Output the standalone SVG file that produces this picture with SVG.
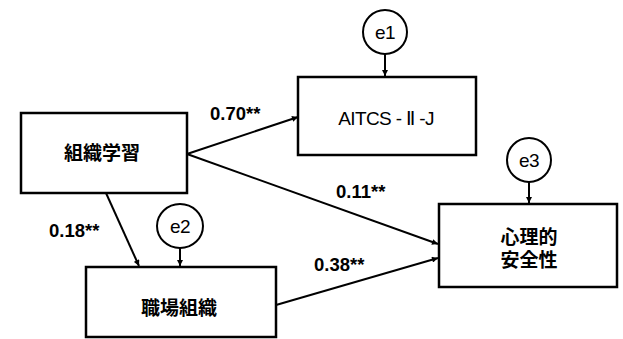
<svg xmlns="http://www.w3.org/2000/svg" width="623" height="339" viewBox="0 0 623 339">
<defs>
<marker id="ah" viewBox="0 0 10 10" refX="10" refY="5" markerWidth="7" markerHeight="6" markerUnits="userSpaceOnUse" orient="auto">
<path d="M0,0 L10,5 L0,10 z" fill="#000"/>
</marker>
</defs>
<style>
.box{fill:#fff;stroke:#000;stroke-width:2.5}
.err{fill:#fff;stroke:#000;stroke-width:2}
.cn{fill:#000;font-family:"Liberation Sans","Noto Sans CJK JP",sans-serif;font-weight:bold;font-size:19px;text-anchor:middle;dominant-baseline:central}
.lat{fill:#000;font-family:"Liberation Sans",Arial,sans-serif;font-size:19px;text-anchor:middle;dominant-baseline:central;letter-spacing:-0.6px}
.lbl{fill:#000;font-family:"Liberation Sans",Arial,sans-serif;font-weight:bold;font-size:18.5px}
.edge{stroke:#000;stroke-width:2;fill:none;marker-end:url(#ah)}
</style>
<rect width="623" height="339" fill="#fff"/>
<g id="connectors">
<line class="edge" x1="187" y1="154" x2="298" y2="117"/>
<line class="edge" x1="187" y1="154" x2="438" y2="244"/>
<line class="edge" x1="106" y1="193" x2="139" y2="266"/>
<line class="edge" x1="276" y1="305" x2="438" y2="258"/>
<line class="edge" x1="385" y1="54" x2="385" y2="76"/>
<line class="edge" x1="180" y1="248" x2="180" y2="266"/>
<line class="edge" x1="529" y1="182" x2="529" y2="203"/>
<text class="lbl" x="210" y="120">0.70**</text>
<text class="lbl" x="336" y="198">0.11**</text>
<text class="lbl" x="49" y="237">0.18**</text>
<text class="lbl" x="314" y="271">0.38**</text>
</g>
<g id="n1">
<rect class="box" x="21" y="113" width="166" height="80"/>
<text class="cn" x="102" y="153">組織学習</text>
</g>
<g id="n2">
<rect class="box" x="298" y="77" width="178" height="78"/>
<text class="lat" x="386" y="118">AITCS - Ⅱ -J</text>
</g>
<g id="n3">
<rect class="box" x="439" y="204" width="178" height="83"/>
<text class="cn" x="529" y="237">心理的</text>
<text class="cn" x="529" y="260">安全性</text>
</g>
<g id="n4">
<rect class="box" x="86" y="267" width="190" height="70"/>
<text class="cn" x="179" y="308">職場組織</text>
</g>
<g id="e1">
<circle class="err" cx="385" cy="32" r="22"/>
<text class="lat" x="385" y="32">e1</text>
</g>
<g id="e2">
<ellipse class="err" cx="180" cy="226" rx="23" ry="22"/>
<text class="lat" x="180" y="226">e2</text>
</g>
<g id="e3">
<circle class="err" cx="529" cy="160" r="22"/>
<text class="lat" x="529" y="160">e3</text>
</g>
</svg>
